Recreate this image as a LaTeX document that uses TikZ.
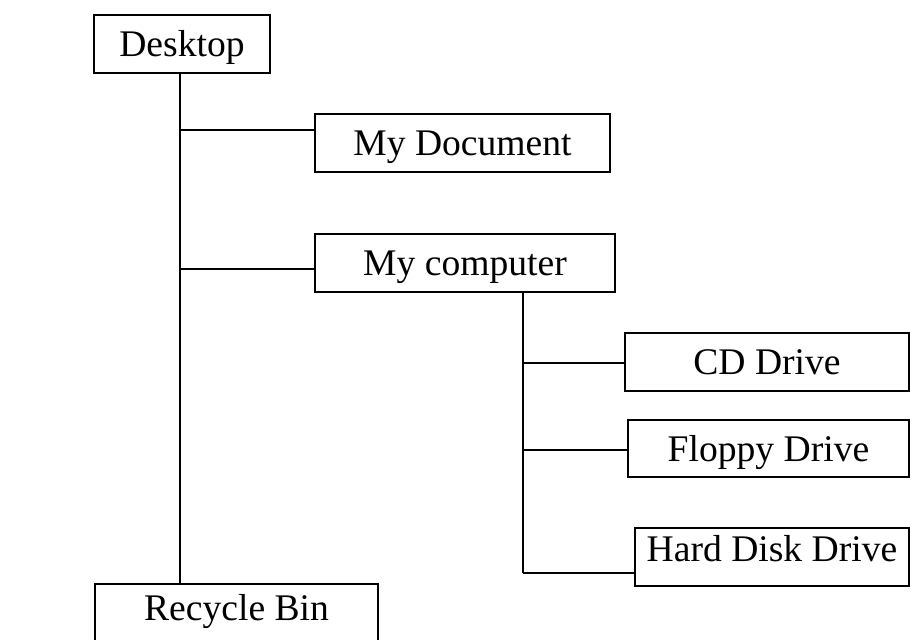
\documentclass[tikz,border=0pt]{standalone}
\usepackage{fontspec}
\setmainfont{Liberation Serif}
\usepackage{tikz}
\usetikzlibrary{positioning, calc}

\tikzset{
  folder/.style={draw, line width=1.4pt, inner sep=0pt, minimum height=29pt,
    text height=13pt, text depth=0pt, font=\fontsize{18.8}{22}\selectfont},
  link/.style={line width=1.4pt}
}

\begin{document}
\begin{tikzpicture}[x=0.5pt, y=-0.5pt]
  \useasboundingbox (0,0) rectangle (910,640);
  \clip (0,0) rectangle (910,640);
  % boxes
  \node[folder, minimum width=88pt] (desk) at (182,44) {Desktop};
  \node[folder, minimum width=147.5pt] (mydoc) at (462.5,143) {My Document};
  \node[folder, minimum width=150pt] (mycomp) at (465,263) {My computer};
  \node[folder, minimum width=142pt] (cd) at (767,362) {CD Drive};
  \node[folder, minimum width=140.5pt, minimum height=28.5pt] (floppy) at (768.5,448.5) {Floppy Drive};
  \node[folder, minimum width=137pt, text depth=8pt] (hdd) at (772,557) {Hard Disk Drive};
  \node[folder, minimum width=141.5pt, text depth=6pt] (bin) at (236.5,613) {Recycle Bin};
  % trunk and branch points
  \coordinate (trunk) at (180,73);
  \coordinate (subtrunk) at (523,292);
  \coordinate (jdoc) at (180,130);
  \coordinate (jcomp) at (180,269);
  \coordinate (jcd) at (523,363);
  \coordinate (jfloppy) at (523,450);
  \coordinate (jhdd) at (523,573);
  \draw[link] (desk.south -| trunk) -- (bin.north -| trunk);
  \draw[link] (jdoc) -- (mydoc.west |- jdoc);
  \draw[link] (jcomp) -- (mycomp.west |- jcomp);
  \draw[link] (mycomp.south -| subtrunk) -- (jhdd);
  \draw[link] (jcd) -- (cd.west |- jcd);
  \draw[link] (jfloppy) -- (floppy.west |- jfloppy);
  \draw[link] (jhdd) -- (hdd.west |- jhdd);
\end{tikzpicture}
\end{document}
